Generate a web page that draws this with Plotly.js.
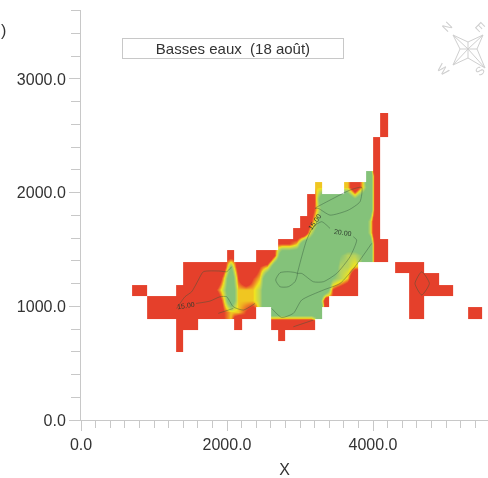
<!DOCTYPE html>
<html>
<head>
<meta charset="utf-8">
<script src="https://cdn.plot.ly/plotly-3.0.1.min.js"></script>
<style>
html,body{margin:0;padding:0;background:#fff;overflow:hidden}
#chart{width:488px;height:478px;filter:blur(0.45px)}
</style>
</head>
<body>
<div id="chart"></div>
<script>
// Surface levels, 100 x 100 cells, first row is y=600-700, first column is x=700-800. '.' = no data.
// Columns are grouped by ten for reading.
const surfaceRows = [
  "......0... .......... .......... .......... ........",
  "......0... .......... 0......... .......... ........",
  "......000. ....0....0 00000..... .......... ........",
  "..00000000 0034432..8 888888.... ........00 ......00",
  "..00000000 0148444588 8888881... ........00 ........",
  "00....0000 0358444588 8888888321 0.......00 0000....",
  ".......000 0148313488 8888888654 0.......00 00......",
  ".......000 0026201348 8888888855 4.....0000 ........",
  ".......... ...2...003 8888888865 56800..... ........",
  ".......... .......... 3348888888 88800..... ........",
  ".......... .......... ..11588888 8850...... ........",
  ".......... .......... ...0368888 8850...... ........",
  ".......... .......... ....258888 8880...... ........",
  ".......... .......... ....168888 6880...... ........",
  ".......... .......... .....4...4 1480...... ........",
  ".......... .......... .......... ..80...... ........",
  ".......... .......... .......... ...0...... ........",
  ".......... .......... .......... ...0...... ........",
  ".......... .......... .......... ...0...... ........",
  ".......... .......... .......... ....0..... ........",
  ".......... .......... .......... ....0..... ........"
];
const xStart = 750, yStart = 650, cellSize = 100;
const levelColors = [[0,"#e5402b"],[0.333,"#e5402b"],[0.4,"#ef8a25"],[0.467,"#f1e51f"],[0.556,"#b7d35e"],[0.667,"#84c27a"],[1,"#84c27a"]];

const contourA = {x:[1310,1424,1516,1607,1676,1904,1995,2064], y:[981,1084,1128,1231,1304,1310,1304,1348]};
const contourB = {x:[1575,1767,1904,1995,2086,2223,2383], y:[1025,1046,1084,1084,996,967,1025]};
const contourC = {x:[1881,2086], y:[938,981]};
const contourD = {x:[2667,2726,2840,2963,2931,2840,2726,2667], y:[1231,1295,1304,1289,1216,1172,1172,1231]};
const contourE = {x:[2963,3023,3091,3183,3297,3411,null,3730,3776,3685,3502,3320,3183,3023,2963], y:[1289,1436,1583,1700,1744,1685,null,1612,1583,1436,1289,1216,1216,1289,1289]};
const contourF = {x:[3205,3411,3685,3845,3822,3662,3411,3251,3205], y:[1861,1934,2022,2046,1920,1846,1802,1861,1861]};
const contourG = {x:[2612,2749,2909,3023,3320,3548,3753,3982], y:[981,902,938,1055,1143,1201,1348,1553]};
const contourH = {x:[4667,4575,4667,4772,4667], y:[1304,1201,1099,1201,1304]};
const contourI = {x:[2909,3183], y:[820,879]};
const contourLabels = [
  {text:"15.00", x:1438, y:1011, rot:-8},
  {text:"15.00", x:3205, y:1744, rot:-55},
  {text:"20.00", x:3584, y:1647, rot:8}
];

const xTick0 = 0, xMajor = 2000, xMinor = 200, yMajor = 1000, yMinor = 200;
const axisGrey = "#c8c8c8", textDark = "#333333";

const z = surfaceRows.map(r => r.replace(/ /g,"").split("").map(c => c === "." ? null : +c));

const traces = [{
  type:"heatmap", z:z, x0:xStart, dx:cellSize, y0:yStart, dy:cellSize,
  zmin:0, zmax:9, zsmooth:"best", colorscale:levelColors, showscale:false, hoverinfo:"skip"
}];
[contourA,contourB,contourC,contourD,contourE,contourF,contourG,contourH,contourI].forEach(c=>{
  traces.push({type:"scatter",mode:"lines",x:c.x,y:c.y,line:{color:"rgba(50,85,60,0.55)",width:0.8,shape:"spline",smoothing:0.6},hoverinfo:"skip",showlegend:false});
});

// pixel helpers for page furniture only (compass rose)
const fx = p => (p-81)/407, fy = p => (420-p)/410;
const rose = [
  [[453,35],[468,42],[483,35],[477,49],[485,68],[468,58],[453,65],[460,49],[453,35]],
  [[453,35],[468,49],[485,68]],
  [[483,35],[468,49],[453,65]],
  [[460,49],[477,49]],
  [[468,42],[468,58]]
];
const shapes = rose.map(pts=>({
  type:"path", xref:"paper", yref:"paper",
  path: pts.map((p,i)=>(i?"L":"M")+fx(p[0])+","+fy(p[1])).join(" "),
  line:{color:"#cfcfcf",width:1}
}));

const ann = contourLabels.map(l=>({
  xref:"x",yref:"y",x:l.x,y:l.y,text:l.text,textangle:l.rot,showarrow:false,
  font:{family:"Liberation Sans",size:7,color:"#2d3a2d"}
}));
ann.push({
  xref:"paper",yref:"paper",x:fx(233),y:fy(49),xanchor:"center",yanchor:"middle",text:"Basses eaux  (18 août)",showarrow:false,
  width:220,height:19,bordercolor:axisGrey,borderwidth:1,borderpad:0,bgcolor:"#ffffff",
  font:{family:"Liberation Sans",size:15,color:textDark}
});
[["N",447,27,-45],["W",443,70,45],["E",480,27,45],["S",480,71,-45]].forEach(a=>{
  ann.push({xref:"paper",yref:"paper",x:fx(a[1]),y:fy(a[2]),xanchor:"center",yanchor:"middle",text:a[0],textangle:a[3],showarrow:false,
    font:{family:"Liberation Sans",size:12,color:"#cfcfcf"}});
});
ann.push({xref:"paper",yref:"paper",x:fx(-1),y:fy(30),text:")",showarrow:false,xanchor:"left",yanchor:"middle",
  font:{family:"Liberation Sans",size:16,color:textDark}});

const layout = {
  width:488,height:478,margin:{l:81,r:0,t:10,b:58,pad:0},
  paper_bgcolor:"#fff",plot_bgcolor:"#fff",showlegend:false,
  font:{family:"Liberation Sans",color:textDark,size:16},
  xaxis:{range:[0,5575],tick0:xTick0,dtick:xMajor,tickformat:".1f",ticks:"outside",ticklen:10,tickcolor:axisGrey,
    showline:true,linecolor:axisGrey,showgrid:false,zeroline:false,
    minor:{dtick:xMinor,tick0:0,ticks:"outside",ticklen:7,tickcolor:axisGrey},
    tickfont:{size:16,color:textDark},title:{text:"X",font:{size:16,color:textDark}}},
  yaxis:{range:[0,3606],tick0:0,dtick:yMajor,tickformat:".1f",ticks:"outside",ticklen:11,tickcolor:axisGrey,
    showline:true,linecolor:axisGrey,showgrid:false,zeroline:false,
    minor:{dtick:yMinor,tick0:0,ticks:"outside",ticklen:9,tickcolor:axisGrey},
    tickfont:{size:16,color:textDark}},
  shapes:shapes,annotations:ann
};
Plotly.newPlot("chart",traces,layout,{staticPlot:true,displayModeBar:false});
</script>
</body>
</html>
